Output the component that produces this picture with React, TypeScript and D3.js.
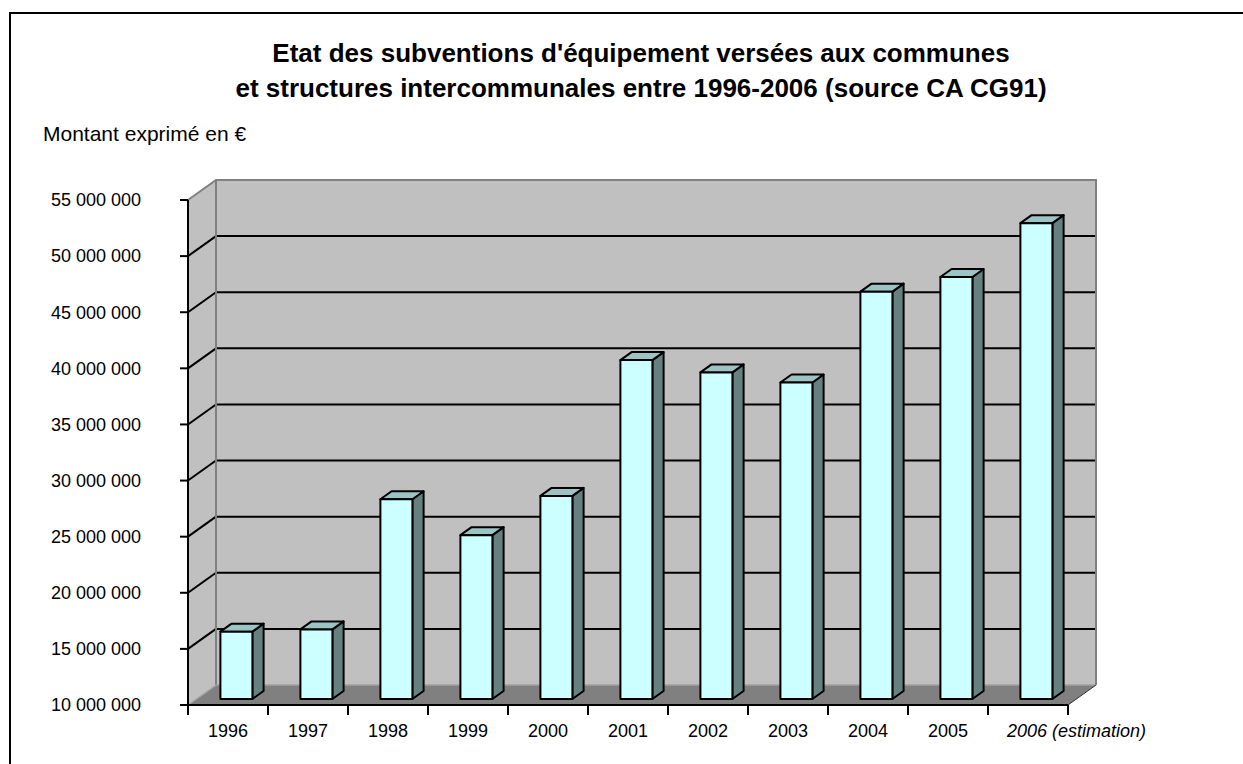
import React from "react";
import * as d3 from "d3";

const years = ["1996", "1997", "1998", "1999", "2000", "2001", "2002", "2003", "2004", "2005", "2006 (estimation)"];
const amounts = [16.0e6, 16.2e6, 27.8e6, 24.6e6, 28.1e6, 40.2e6, 39.1e6, 38.2e6, 46.3e6, 47.6e6, 52.4e6];
const yTicks = [10e6, 15e6, 20e6, 25e6, 30e6, 35e6, 40e6, 45e6, 50e6, 55e6];
const titleLines = [
  "Etat des subventions d'équipement versées aux communes",
  "et structures intercommunales entre 1996-2006 (source CA CG91)",
];

const W = 1243;
const H = 764;
const font = "'Liberation Sans', Arial, sans-serif";

// 3D depth offset of the back wall
const DX = 28;
const DY = -20;

const fmt = (v: number) => d3.format(",")(v).replace(/,/g, " ");

const App = () => {
  const x = d3.scaleBand<string>().domain(years).range([188, 1068]).padding(0);
  const y = d3.scaleLinear().domain([10e6, 55e6]).range([705, 200]);

  const x0 = x.range()[0];
  const x1 = x.range()[1];
  const yBot = y(10e6);
  const yTop = y(55e6);

  const pts = (a: number[][]) => a.map((p) => p.join(",")).join(" ");

  // bar geometry (depth fraction)
  const z0 = 0.3;
  const dz = 0.4;
  const bw = x.bandwidth() * 0.4;

  return (
    <svg width={W} height={H} style={{ position: "absolute", left: 0, top: 0 }} fontFamily={font}>
      <rect x={0} y={0} width={W} height={H} fill="#fff" />
      <rect x={10} y={13} width={1400} height={900} fill="none" stroke="#000" strokeWidth={2} />

      {titleLines.map((t, i) => (
        <text key={i} x={641} y={62 + i * 35} textAnchor="middle" fontSize={26} fontWeight="bold">
          {t}
        </text>
      ))}
      <text x={43} y={141} fontSize={21}>
        Montant exprimé en €
      </text>

      {/* walls */}
      <rect x={x0 + DX} y={yTop + DY} width={x1 - x0} height={yBot - yTop} fill="#c0c0c0" />
      <polygon
        points={pts([[x0, yBot], [x0 + DX, yBot + DY], [x0 + DX, yTop + DY], [x0, yTop]])}
        fill="#c0c0c0"
      />
      <polygon
        points={pts([[x0, yBot], [x1, yBot], [x1 + DX, yBot + DY], [x0 + DX, yBot + DY]])}
        fill="#808080"
      />

      {/* gridlines */}
      {yTicks.slice(1, -1).map((t) => (
        <g key={t} stroke="#000" strokeWidth={2}>
          <line x1={x0} y1={y(t)} x2={x0 + DX} y2={y(t) + DY} />
          <line x1={x0 + DX} y1={y(t) + DY} x2={x1 + DX} y2={y(t) + DY} />
        </g>
      ))}

      {/* wall edges */}
      <g stroke="#808080" fill="none">
        <polyline
          points={pts([[x0, yTop], [x0 + DX, yTop + DY], [x1 + DX, yTop + DY], [x1 + DX, yBot + DY]])}
          strokeWidth={2}
        />
        <line x1={x0 + DX} y1={yTop + DY} x2={x0 + DX} y2={yBot + DY} strokeWidth={2} />
        <line x1={x0 + DX} y1={yBot + DY} x2={x1 + DX} y2={yBot + DY} stroke="#a0a0a0" strokeWidth={1.5} />
        <line x1={x0} y1={yBot} x2={x0 + DX} y2={yBot + DY} stroke="#a8a8a8" strokeWidth={1.5} />
      </g>
      <line x1={x1} y1={yBot} x2={x1 + DX} y2={yBot + DY} stroke="#333" strokeWidth={1} />

      {/* bars */}
      {years.map((yr, i) => {
        const bx0 = (x(yr) as number) + (x.bandwidth() - bw) / 2 + z0 * DX;
        const bx1 = bx0 + bw;
        const yt = y(amounts[i]) + z0 * DY;
        const yb = yBot + z0 * DY;
        const ox = dz * DX;
        const oy = dz * DY;
        return (
          <g key={yr} stroke="#000" strokeWidth={2} strokeLinejoin="round">
            <polygon points={pts([[bx1, yt], [bx1 + ox, yt + oy], [bx1 + ox, yb + oy], [bx1, yb]])} fill="#668280" />
            <polygon points={pts([[bx0, yt], [bx1, yt], [bx1 + ox, yt + oy], [bx0 + ox, yt + oy]])} fill="#9dc4c4" />
            <rect x={bx0} y={yt} width={bw} height={yb - yt} fill="#ccffff" />
          </g>
        );
      })}

      {/* y axis */}
      <g stroke="#000" strokeWidth={2}>
        <line x1={x0} y1={yTop} x2={x0} y2={yBot} />
        {yTicks.map((t) => (
          <line key={t} x1={x0 - 8} y1={y(t)} x2={x0} y2={y(t)} />
        ))}
      </g>
      {yTicks.map((t) => (
        <text key={t} x={141} y={y(t)} dy="0.35em" textAnchor="end" fontSize={18}>
          {fmt(t)}
        </text>
      ))}

      {/* x axis */}
      <g stroke="#000" strokeWidth={2}>
        <line x1={x0} y1={yBot} x2={x1} y2={yBot} />
        {years.map((yr) => (
          <line key={yr} x1={x(yr) as number} y1={yBot} x2={x(yr) as number} y2={yBot + 10} />
        ))}
        <line x1={x1} y1={yBot} x2={x1} y2={yBot + 10} />
      </g>
      {years.map((yr, i) => {
        const last = i === years.length - 1;
        return (
          <text
            key={yr}
            x={last ? (x(yr) as number) + 19 : (x(yr) as number) + x.bandwidth() / 2}
            y={737}
            textAnchor={last ? "start" : "middle"}
            fontSize={18}
            fontStyle={last ? "italic" : "normal"}
          >
            {yr}
          </text>
        );
      })}
    </svg>
  );
};

export default App;
